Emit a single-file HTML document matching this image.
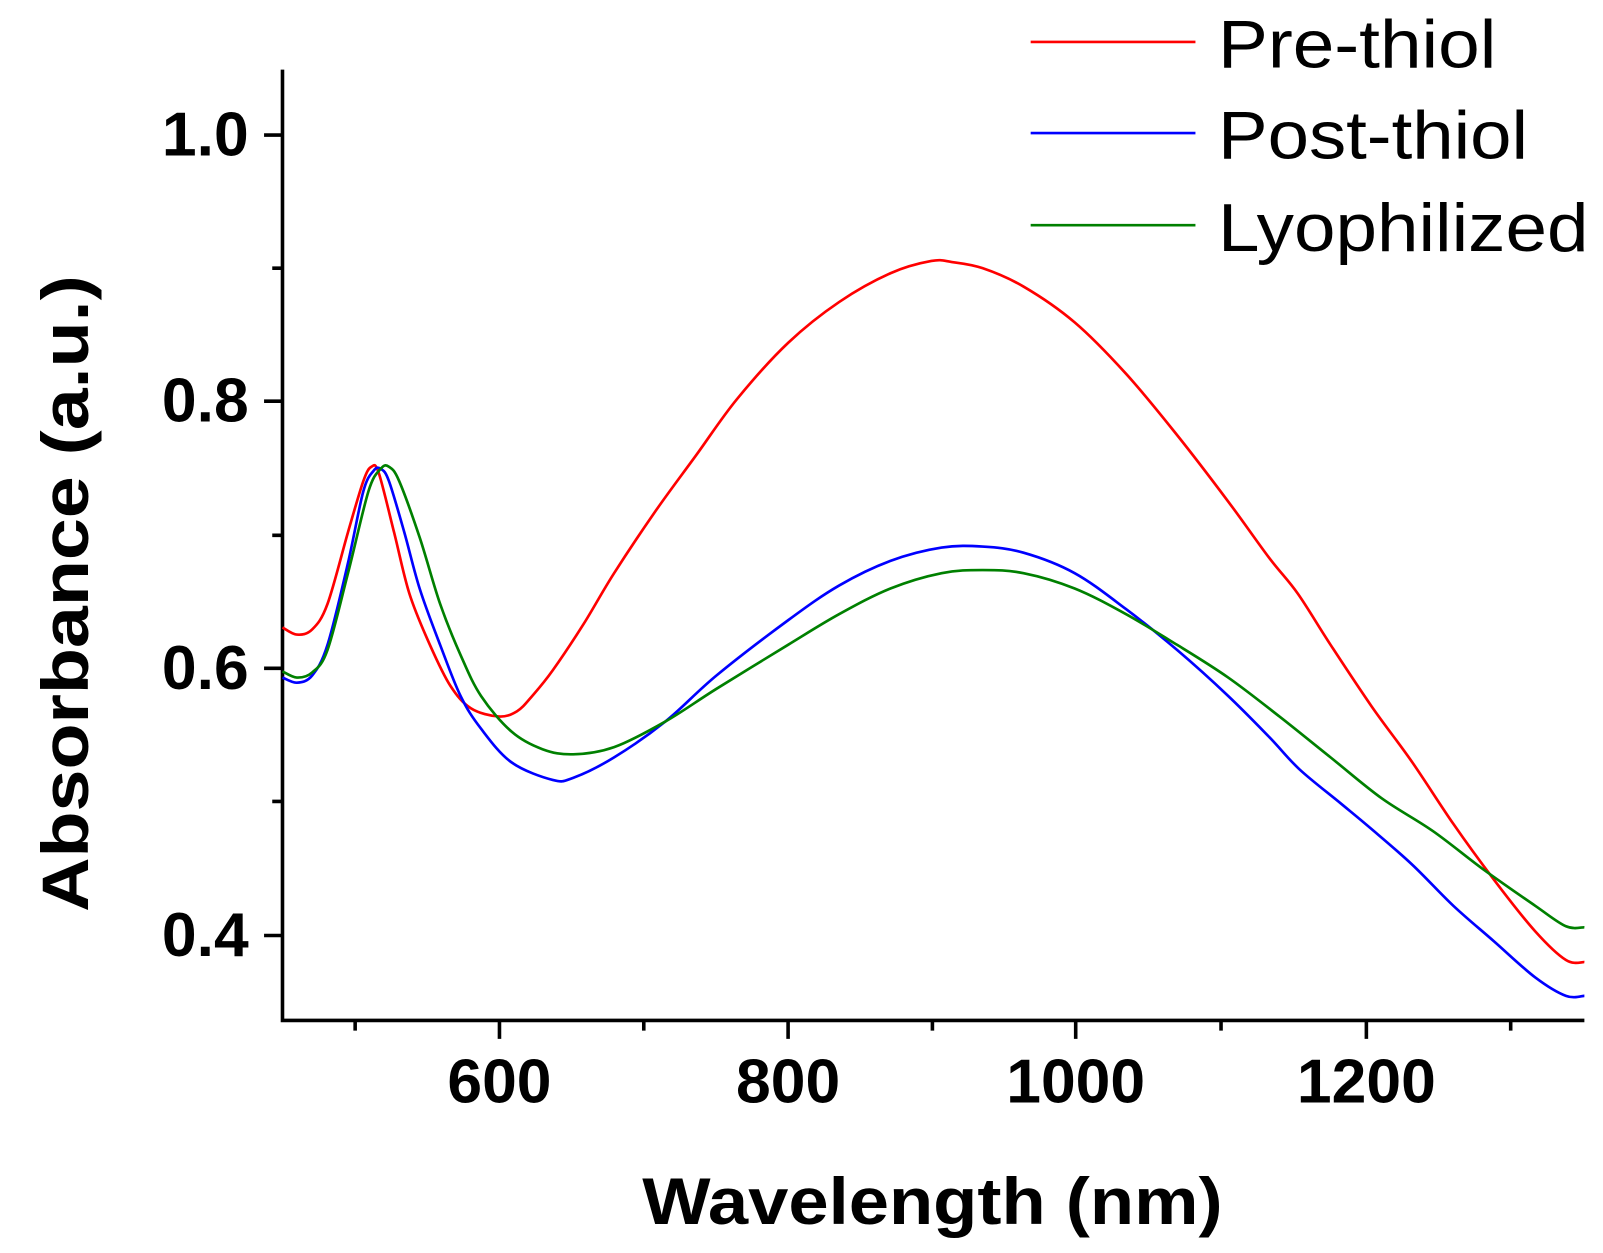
<!DOCTYPE html>
<html><head><meta charset="utf-8"><style>html,body{margin:0;padding:0;background:#fff}svg{display:block}</style></head>
<body>
<svg width="1603" height="1253" viewBox="0 0 1603 1253" xmlns="http://www.w3.org/2000/svg">
<g transform="scale(1.0235)">
<g stroke="#000" stroke-width="3.5" fill="none">
<path d="M276,68 V997 H1548"/>
<path d="M488,997 v18 M770,997 v18 M1051,997 v18 M1335,997 v18 M347,997 v10 M629,997 v10 M911,997 v10 M1193,997 v10 M1476,997 v10"/>
<path d="M276,132 h-18 M276,392 h-18 M276,653 h-18 M276,914 h-18 M276,262 h-10 M276,523 h-10 M276,783 h-10"/>
</g>
<g font-family="Liberation Sans, Arial, sans-serif" font-weight="bold" font-size="61" fill="#000">
<text x="243" y="152" text-anchor="end">1.0</text>
<text x="243" y="412" text-anchor="end">0.8</text>
<text x="243" y="673" text-anchor="end">0.6</text>
<text x="243" y="934" text-anchor="end">0.4</text>
<text x="488" y="1077" text-anchor="middle">600</text>
<text x="770" y="1077" text-anchor="middle">800</text>
<text x="1051" y="1077" text-anchor="middle">1000</text>
<text x="1335" y="1077" text-anchor="middle">1200</text>
<text x="911" y="1196" text-anchor="middle" font-size="64" textLength="567" lengthAdjust="spacingAndGlyphs">Wavelength (nm)</text>
<text transform="translate(86,580) rotate(-90)" text-anchor="middle" font-size="64" textLength="622" lengthAdjust="spacingAndGlyphs">Absorbance (a.u.)</text>
</g>
<g fill="none" stroke-width="2.6" stroke-linejoin="round">
<path class="c" stroke="#ff0000" data-p="276,613 290,620 305,615 320,590 340,520 355,470 363,456 370,462 385,520 400,580 420,630 440,670 460,692 487,700 505,695 520,680 540,655 570,610 600,560 640,500 680,445 720,390 770,335 820,295 870,267 910,255 930,256 960,262 1000,280 1050,315 1100,365 1150,425 1200,490 1240,545 1268,580 1300,630 1340,690 1380,745 1420,805 1460,860 1500,910 1530,938 1548,940"/>
<path class="c" stroke="#0000ff" data-p="276,662 290,667 305,660 320,630 340,550 355,480 365,460 372,458 380,470 395,520 410,575 430,630 450,680 470,712 500,745 540,762 560,760 600,740 650,705 700,660 770,606 820,572 870,548 920,535 960,534 1000,540 1050,560 1100,595 1150,635 1200,680 1240,720 1270,752 1310,785 1340,810 1380,845 1420,885 1460,920 1500,955 1530,973 1548,973"/>
<path class="c" stroke="#008000" data-p="276,656 290,662 305,657 320,635 340,560 360,480 372,458 380,456 390,470 410,525 430,590 450,640 470,680 500,715 530,732 560,737 600,730 650,705 700,673 770,630 820,600 870,575 920,560 960,557 1000,560 1050,575 1100,600 1150,630 1200,662 1250,700 1300,740 1350,780 1400,812 1450,850 1500,885 1530,905 1548,906"/>
<line x1="1007" y1="41" x2="1168" y2="41" stroke="#ff0000"/>
<line x1="1007" y1="130" x2="1168" y2="130" stroke="#0000ff"/>
<line x1="1007" y1="220" x2="1168" y2="220" stroke="#008000"/>
</g>
<g font-family="Liberation Sans, Arial, sans-serif" font-size="66" fill="#000">
<text x="1190" y="66" textLength="272" lengthAdjust="spacingAndGlyphs">Pre-thiol</text>
<text x="1190" y="155" textLength="303" lengthAdjust="spacingAndGlyphs">Post-thiol</text>
<text x="1190" y="245" textLength="362" lengthAdjust="spacingAndGlyphs">Lyophilized</text>
</g>
</g>
</svg>
<script>
document.querySelectorAll('path.c').forEach(function(el){
  var p=el.getAttribute('data-p').trim().split(/\s+/).map(function(s){return s.split(',').map(Number);});
  var d='M'+p[0][0]+','+p[0][1];
  for(var i=0;i<p.length-1;i++){
    var p0=p[i-1]||p[i],p1=p[i],p2=p[i+1],p3=p[i+2]||p2;
    var c1x=p1[0]+(p2[0]-p0[0])/6,c1y=p1[1]+(p2[1]-p0[1])/6;
    var c2x=p2[0]-(p3[0]-p1[0])/6,c2y=p2[1]-(p3[1]-p1[1])/6;
    d+=' C'+c1x.toFixed(1)+','+c1y.toFixed(1)+' '+c2x.toFixed(1)+','+c2y.toFixed(1)+' '+p2[0]+','+p2[1];
  }
  el.setAttribute('d',d);
});
</script>
</body></html>
